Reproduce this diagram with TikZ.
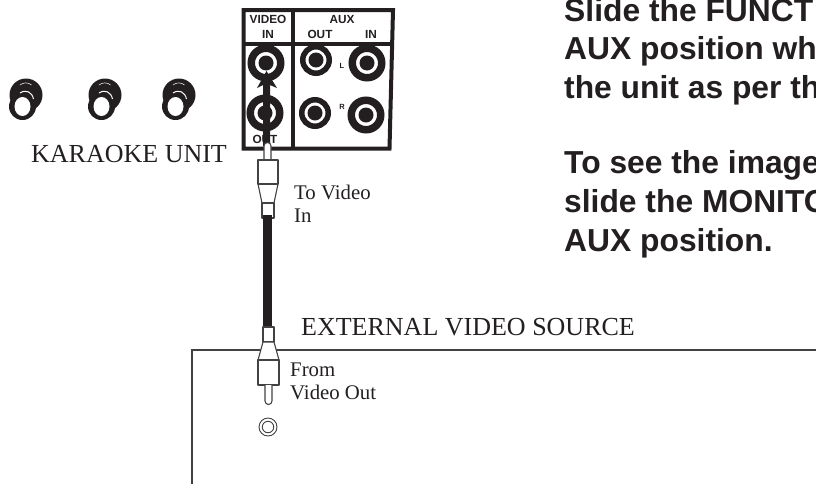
\documentclass[tikz,border=0pt]{standalone}
\usepackage{fontspec}
\setmainfont{Liberation Serif}
\newfontfamily\hv{Liberation Sans}
\definecolor{ink}{HTML}{231F20}
\tikzset{
 every picture/.style={x=1pt,y=-1pt},
 big/.style={inner sep=0,anchor=base west,text=ink,font=\fontsize{26}{26}\selectfont},
 sm/.style={inner sep=0,anchor=base west,text=ink,font=\fontsize{20.8}{20.8}\selectfont},
 body/.style={inner sep=0,anchor=base west,text=ink,font=\hv\bfseries\fontsize{31.8}{31.8}\selectfont},
 pl/.style={inner sep=0,anchor=base,text=ink,font=\hv\bfseries\fontsize{11.8}{11.8}\selectfont},
 pls/.style={inner sep=0,anchor=base,text=ink,font=\hv\bfseries\fontsize{7.5}{7.5}\selectfont},
 panel/.style={draw=ink,line width=4pt},
 jackbig/.style={circle,draw=ink,fill=white,inner sep=0},
 hole/.style={circle,fill=ink,minimum size=15pt,inner sep=0},
 plugline/.style={draw=ink!85,line width=1.1pt,fill=white,line join=round},
 cable/.style={draw=ink,line width=9pt},
}
\newcommand{\knobmark}[2]{%
 \fill[ink] (#1,#2) circle (16.5pt);
 \fill[ink] (#1-3.5,#2+11.5) circle (13.5pt);
 \draw[white,line width=0.5pt] (#1-6,#2-10) arc[start angle=130,end angle=50,radius=9pt];
 \draw[white,line width=1pt] (#1-6,#2-2) .. controls (#1,#2-6) and (#1+6,#2-3) .. (#1+7.5,#2+4);
 \fill[white] (#1-3.5,#2+11.5) ellipse (8pt and 9.5pt);
}
\begin{document}
\begin{tikzpicture}
\useasboundingbox (0,0) rectangle (816,485);
\knobmark{26}{95}
\knobmark{105}{95}
\knobmark{179}{95}
\node[big] (karaoke) at (31,162) {KARAOKE UNIT};
% panel
\draw[panel,line join=miter] (243.5,10) -- (393,10) -- (389.5,148.7) -- (243.5,148.7) -- cycle;
\draw[panel] (292.5,10) -- (292.5,148.7);
\draw[panel] (243.5,43.5) -- (391.5,43.5);
\node[pl] (video) at (268,23) {VIDEO};
\node[pl] (vin) at (268,38) {IN};
\node[pl] (aux) at (342,23) {AUX};
\node[pl] (aout) at (320,38) {OUT};
\node[pl] (ain) at (371,38) {IN};
\node[pls] (lft) at (342,68) {L};
\node[pls] (rgt) at (342,109.5) {R};
\node[pl] (vout) at (265,143) {OUT};
\foreach \n/\x/\y/\w/\d in {a/266/63/7.5/29.5,b/265/113/7.5/29.5,c/316/60/5.5/26.5,d/367/63/7.5/29.5,e/315/113/5.5/26.5,f/366/115/7.5/29.5}{
 \node[jackbig,line width=\w pt,minimum size=\d pt] (j\n) at (\x,\y) {};
 \node[hole] (h\n) at (\x,\y) {};
}
% arrow shaft and head
\coordinate (tip) at (266.5,71);
\fill[ink] (tip) -- (277,88) -- (270,85) -- (270,146) -- (263,146) -- (263,85) -- (257,88) -- cycle;
% cable
\coordinate (upend) at (267.5,215);
\coordinate (lowend) at (267.5,328);
% upper plug
\draw[plugline] (264,160) -- (264,146) arc[start angle=180,end angle=0,radius=3.5pt] -- (271,160);
\draw[plugline] (258,160) rectangle (278,184);
\draw[plugline] (258,184) -- (262,203) -- (274,203) -- (278,184);
\draw[plugline] (262,203) rectangle (274,218);
\draw[ink!85,line width=1.6pt] (258,184) -- (278,184);
\draw[cable] (upend) -- (lowend);
% box
\draw[ink!85,line width=2.2pt] (192,484) -- (192,350) -- (816,350);
% lower plug
\draw[plugline] (263,327) rectangle (274,342);
\draw[plugline] (263,342) -- (258,360) -- (279,360) -- (274,342) -- cycle;
\draw[plugline] (258,360) rectangle (279,385);
\draw[plugline] (265,385) -- (265,401) arc[start angle=180,end angle=360,radius=3.5pt] -- (272,385);
\draw[ink!85,line width=1.8pt] (258,360) -- (279,360);
\node[circle,draw=ink!85,line width=0.9pt,minimum size=18pt,inner sep=0] (svid) at (268,427) {};
\node[circle,draw=ink!85,line width=0.9pt,minimum size=11.5pt,inner sep=0] (svidin) at (268,427) {};
% labels
\node[sm] (t1) at (294,199) {To Video};
\node[sm] (t2) at (294,222) {In};
\node[big] (ext) at (301,335) {EXTERNAL VIDEO SOURCE};
\node[sm] (f1) at (290,376) {From};
\node[sm] (f2) at (290,399) {Video Out};
\begin{scope}
\clip (0,0) rectangle (816,485);
\node[body] (l1) at (564,21) {Slide the FUNCT};
\node[body] (l2) at (564,59) {AUX position wh};
\node[body] (l3) at (564,98) {the unit as per th};
\node[body] (l4) at (564,173) {To see the image};
\node[body] (l5) at (564,212) {slide the MONITO};
\node[body] (l6) at (564,251) {AUX position.};
\end{scope}
\end{tikzpicture}
\end{document}
